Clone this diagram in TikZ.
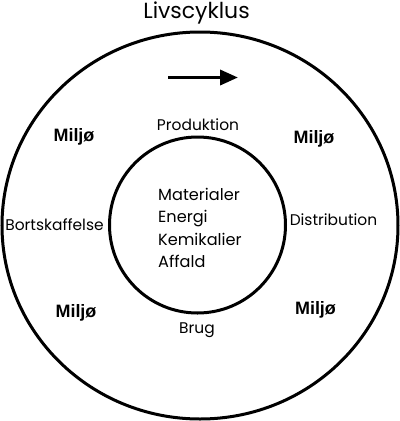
\documentclass[tikz,border=0pt]{standalone}
\usepackage{fontspec}
\setmainfont{Poppins}
\newfontfamily\boldsans{Liberation Sans}
\usetikzlibrary{arrows.meta,shapes.geometric}
\tikzset{
  ring/.style={draw=black, line width=3bp},
  lbl/.style={font=\fontsize{15.5}{17}\selectfont, inner sep=0pt, anchor=base},
  core/.style={font=\fontsize{16.2}{18}\selectfont, inner sep=0pt, anchor=base west},
  env/.style={font=\boldsans\bfseries\fontsize{18}{20}\selectfont, inner sep=0pt, anchor=base},
}
\begin{document}
\begin{tikzpicture}[x=1bp,y=-1bp]
\useasboundingbox (0,0) rectangle (400,421);
\node[ellipse, minimum width=396bp, minimum height=387bp, ring, inner sep=0pt] (outer) at (200,225.5) {};
\node[circle, minimum size=176bp, ring, inner sep=0pt] (inner) at (197.5,225) {};
\node[font=\fontsize{22}{24}\selectfont, inner sep=0pt, anchor=base] (title) at (196.5,18) {Livscyklus};
\coordinate (a1) at (168,77.5);
\coordinate (a2) at (238,77.5);
\draw[line width=3.6bp, -{Triangle[length=18bp,width=15bp]}] (a1) -- (a2);
\node[lbl] (prod) at (198,130) {Produktion};
\node[lbl] (dist) at (333.5,225.7) {Distribution};
\node[lbl] (bort) at (54.5,230) {Bortskaffelse};
\node[lbl] (brug) at (197,333.3) {Brug};
\node[core] (c1) at (158,200) {Materialer};
\node[core] (c2) at (158,222.5) {Energi};
\node[core] (c3) at (158,245) {Kemikalier};
\node[core] (c4) at (158,267.5) {Affald};
\node[env] (m1) at (74,141.7) {Miljø};
\node[env] (m2) at (314,143.3) {Miljø};
\node[env] (m3) at (76,317) {Miljø};
\node[env] (m4) at (315.5,314.3) {Miljø};
\end{tikzpicture}
\end{document}
